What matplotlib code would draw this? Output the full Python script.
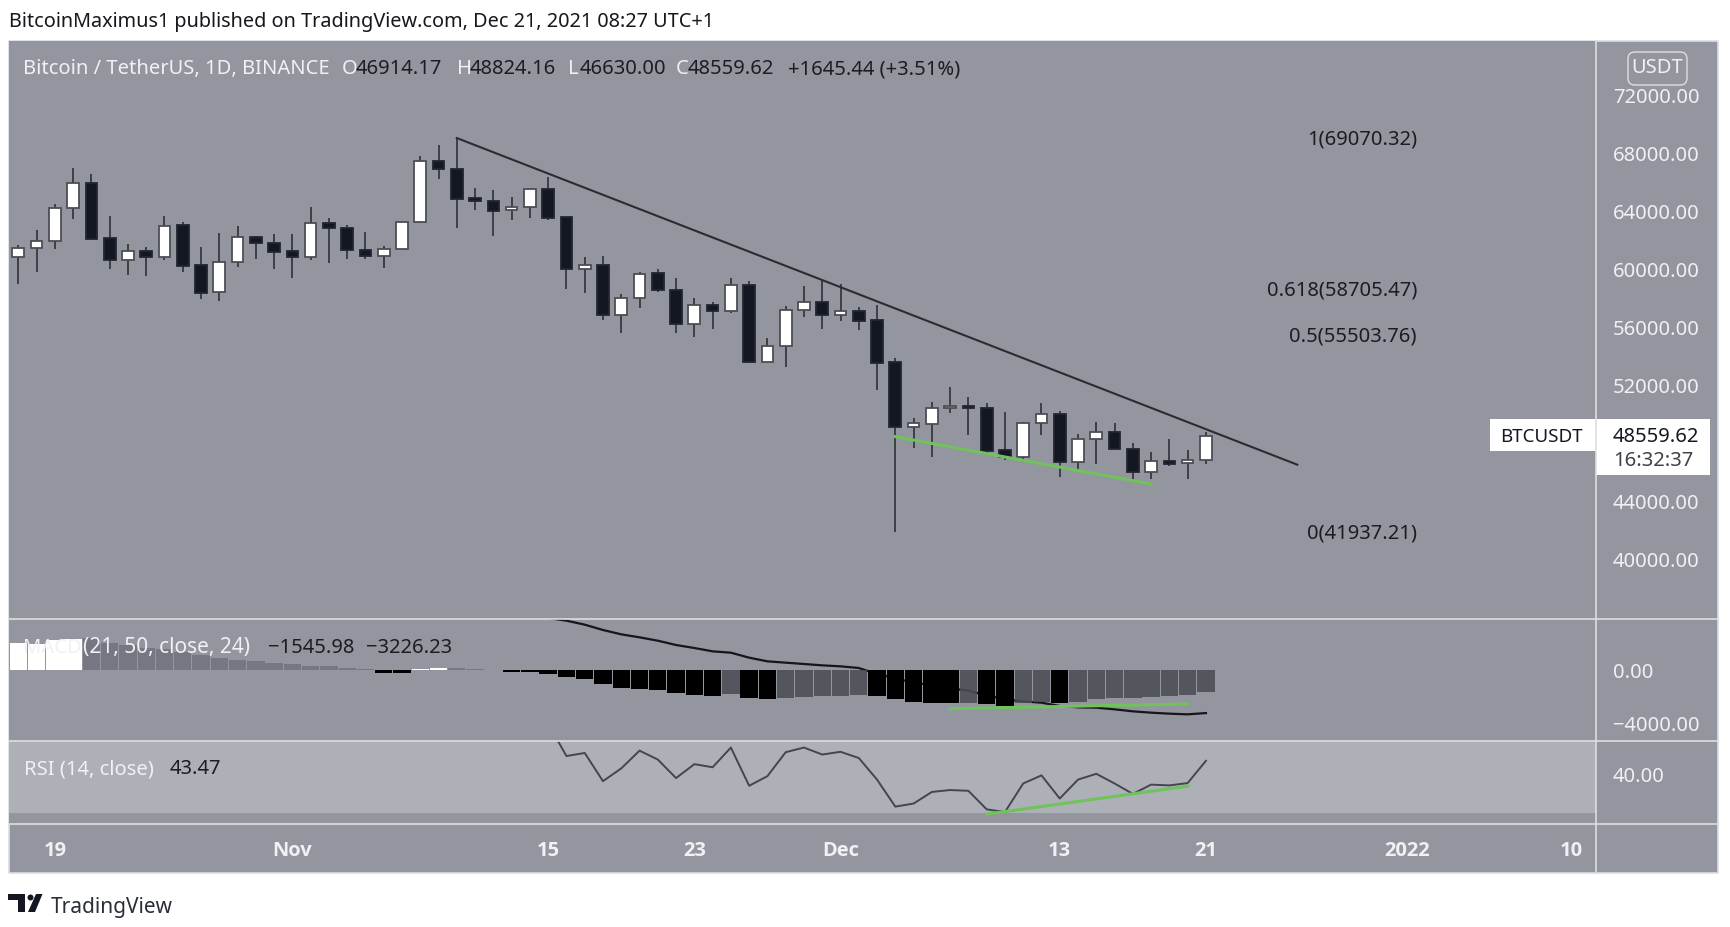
import matplotlib
matplotlib.use("Agg")
import matplotlib.pyplot as plt
from matplotlib.patches import Rectangle, FancyBboxPatch, Ellipse, Polygon
from matplotlib.lines import Line2D

W, H = 1731, 927
BG = "#94969f"
FONT = "Noto Sans"
FS = 14.5

highs = [61723,62758,64551,67057,66643,63746,61792,61562,63746,63333,61562,62528,63011,62367,62459,62459,64321,63586,63080,62620,61654,63333,67862,68597,
         69100,65678,65517,65011,65586,66391,63655,60919,60988,58344,59862,60092,59448,58091,57770,59448,59218,55332,57494,58896,59264,59034,57448,57586,
         53907,49769,50896,51953,51218,50804,50183,49516,50804,50252,48712,49516,49425,48045,47424,48321,47562,48824.16]
lows = [59011,59884,61424,63540,62068,60045,59655,59562,60689,59884,58022,57861,60229,60781,60045,59470,60689,60459,60781,60781,60114,61424,63264,66275,
        62873,64161,62322,63448,63609,63448,58689,58436,56574,55677,57379,58505,55677,55355,55930,57057,53586,53677,53332,56735,55930,56505,55838,51723,
        41937,47746,47126,50114,48643,47355,46896,46781,48643,45746,46298,46643,47631,45470,45585,46459,45585,46630]
opens = [60873,61517,62022,64275,65999,62206,60712,61310,60873,63080,60344,58459,60551,62275,61884,61310,60873,63264,62919,61402,60965,61447,63287,67540,
         66965,64942,64781,64115,64345,65586,63655,60068,60344,56919,58046,59770,58643,56275,57586,57149,58965,53677,54735,57241,57816,56919,57172,56551,
         53632,49149,49401,50459,50643,50482,47562,47126,49425,50068,46735,48344,48850,47654,46091,46850,46666,46914.17]
closes = [61540,62022,64298,65977,62137,60689,61287,60873,63057,60298,58436,60574,62252,61838,61264,60873,63218,62896,61356,60942,61470,63310,67517,66942,
          64896,64735,64092,64367,65586,63609,60068,60344,56919,58068,59747,58597,56275,57586,57149,58942,53677,54735,57264,57816,56919,57195,56505,53586,
          49149,49425,50459,50643,50459,47516,47126,49425,50068,46735,48367,48850,47631,46068,46850,46643,46919,48559.62]

# macd histogram, one bar per day, plus its colour group
hist = [2038,1988,2290,2365,2415,2088,1912,1711,1585,1409,1157,906,780,730,528,478,352,352,176,101,-176,-176,101,201,176,75,25,-101,-101,-252,-503,-679,-1057,
        -1308,-1409,-1510,-1736,-1837,-1937,-1812,-2113,-2189,-2113,-2013,-1937,-1937,-1837,-1937,-2189,-2365,-2466,-2466,-2466,-2541,-2667,-2441,-2415,-2466,
        -2365,-2189,-2088,-2063,-2013,-1937,-1837,-1661]
hist_kind = list("wwww" + "l" * 16 + "kk" + "ww" + "lll" + "k" * 12 + "d" + "kk" + "ddddd" + "kkkkk" + "d" + "kk" + "dd" + "k" + "d" * 8)
macd_days = list(range(29, 66))
macd_line = [3950,3749,3447,3044,2717,2491,2239,1912,1686,1434,1333,956,679,579,478,377,302,176,-277,-604,-931,-1107,-1359,-1535,-1887,-2189,-2340,-2441,-2692,
             -2793,-2818,-2944,-3095,-3195,-3271,-3321,-3226]

rsi_days = list(range(29, 66))
rsi = [53.1,44.7,45.5,38.2,41.5,46.1,43.8,39.0,42.6,41.8,46.9,37.0,39.5,45.7,46.9,45.1,45.8,44.2,38.6,31.6,32.4,35.4,35.9,35.7,30.9,30.2,37.6,39.7,33.7,38.6,
       40.1,37.6,34.9,37.3,37.1,37.7,43.47]

fib_levels = [69070.32, 58705.47, 55503.76, 41937.21]
fib_labels = ["1(69070.32)", "0.618(58705.47)", "0.5(55503.76)", "0(41937.21)"]

price_ticks = [72000, 68000, 64000, 60000, 56000, 52000, 44000, 40000]
macd_ticks = [0, -4000]
rsi_ticks = [40]
time_ticks = [2, 15, 29, 37, 45, 57, 65, 76, 85]
time_labels = ["19", "Nov", "15", "23", "Dec", "13", "21", "2022", "10"]

trend_x, trend_y = [24, 70], [69100, 46574]
green_price_x, green_price_y = [48, 62], [48505, 45240]
green_macd_x, green_macd_y = [51, 64], [-2893, -2541]
green_rsi_x, green_rsi_y = [53, 64], [29.65, 36.9]

XLIM = (-0.51, 86.35)
LEFT, RIGHT = 9, 1596
GREEN = "#6fc35a"
DARK = "#1b1d23"
LIGHT = "#f0f1f4"
SEP = "#dcdee3"


def make_ax(top, bottom):
    ax = fig.add_axes([LEFT / W, 1 - bottom / H, (RIGHT - LEFT) / W, (bottom - top) / H])
    ax.set_facecolor(BG)
    ax.set_xlim(*XLIM)
    for s in ax.spines.values():
        s.set_visible(False)
    ax.yaxis.tick_right()
    ax.tick_params(axis="y", length=0, pad=12, labelcolor=LIGHT, labelsize=FS)
    ax.tick_params(axis="x", length=0, labelbottom=False)
    return ax


def label(x, y, s, color=LIGHT, size=FS, ha="left", **kw):
    fig.text(x / W, 1 - y / H, s, color=color, fontsize=size, ha=ha, va="center", family=FONT, **kw)


def px_poly(points, color):
    fig.add_artist(Polygon([(x / W, 1 - y / H) for x, y in points], closed=True, transform=fig.transFigure,
                           facecolor=color, edgecolor="none"))


fig = plt.figure(figsize=(W / 100, H / 100), dpi=100, facecolor="white")
fig.add_artist(Rectangle((LEFT / W, 1 - 873 / H), (1718 - LEFT) / W, (873 - 41) / H, transform=fig.transFigure,
                         facecolor=BG, edgecolor=SEP, lw=1.2, zorder=-1))

ax = make_ax(41, 619)
ax.set_ylim(35931, 75793)
ax.set_yticks(price_ticks)
ax.set_yticklabels([f"{v:.2f}" for v in price_ticks], family=FONT)
days = list(range(len(opens)))
ax.vlines(days, lows, highs, color="#3d3f46", lw=1.4, zorder=2)
for d, o, c in zip(days, opens, closes):
    up = c >= o
    ax.bar(d, abs(c - o), bottom=min(o, c), width=0.64, zorder=3,
           facecolor="white" if up else "#131722", edgecolor="#4c4e55" if up else "#23262e", lw=1.3)
ax.plot(trend_x, trend_y, color="#2a2c32", lw=1.5, zorder=4)
ax.plot(green_price_x, green_price_y, color=GREEN, lw=2.2, zorder=5)
for lv, txt in zip(fib_levels, fib_labels):
    ax.annotate(txt, (76.55, lv), xytext=(0, -1), textcoords="offset points",
                color=DARK, fontsize=FS, ha="right", va="center", family=FONT)

ax2 = make_ax(619, 741)
ax2.set_ylim(-5334, 3875)
ax2.set_yticks(macd_ticks)
ax2.set_yticklabels(["0.00", "\u22124000.00"], family=FONT)
ax2.plot(macd_days, macd_line, color="#14161b", lw=1.6, zorder=2)
# the dark grey bars let the macd line show through
kind_color = {"w": "#ffffff", "k": "#000000", "l": "#757882", "d": (0.29, 0.30, 0.33, 0.88)}
ax2.bar(days, hist, width=0.95, color=[kind_color[k] for k in hist_kind], zorder=3)
ax2.plot(green_macd_x, green_macd_y, color=GREEN, lw=2.2, zorder=4)

ax3 = make_ax(741, 824)
ax3.set_ylim(27.1, 48.6)
ax3.set_yticks(rsi_ticks)
ax3.set_yticklabels(["40.00"], family=FONT)
ax3.axhspan(30, 70, color="#adb0b7", zorder=0, lw=0)
ax3.plot(rsi_days, rsi, color="#44464c", lw=1.4, zorder=3)
ax3.plot(green_rsi_x, green_rsi_y, color=GREEN, lw=2.2, zorder=4)
ax3.set_xticks(time_ticks)
ax3.tick_params(axis="x", labelbottom=True, pad=12.5)
ax3.set_xticklabels(time_labels, family="Open Sans", fontweight="bold", color=LIGHT, fontsize=FS)

# pane separators and the price column edge
for y in (619, 741, 824):
    fig.add_artist(Line2D([LEFT / W, 1718 / W], [1 - y / H] * 2, color=SEP, lw=1.2, transform=fig.transFigure))
fig.add_artist(Line2D([RIGHT / W] * 2, [1 - 41 / H, 1 - 873 / H], color=SEP, lw=1.2, transform=fig.transFigure))

# text around the panes
label(9, 21.5, "BitcoinMaximus1 published on TradingView.com, Dec 21, 2021 08:27 UTC+1", color="#16181d", size=14.3)
label(23, 69, "Bitcoin / TetherUS, 1D, BINANCE")
for x, s in [(342, "O"), (457, "H"), (568, "L"), (676, "C")]:
    label(x, 69, s)
for x, s in [(356, "46914.17"), (470, "48824.16"), (580, "46630.00"), (688, "48559.62"), (788, "+1645.44 (+3.51%)")]:
    label(x, 69, s, color=DARK)
label(23, 648, "MACD")
label(83, 648, "(21, 50, close, 24)", size=15)
label(268, 648, "\u22121545.98", color=DARK)
label(366, 648, "\u22123226.23", color=DARK)
label(24, 769, "RSI (14, close)")
label(170, 769, "43.47", color=DARK)

# currency button
fig.add_artist(FancyBboxPatch((1628 / W, 1 - 85 / H), 59 / W, 33 / H, boxstyle="round,pad=0,rounding_size=0.004",
                              mutation_aspect=W / H, transform=fig.transFigure, facecolor=BG, edgecolor=SEP, lw=1))
label(1657.5, 68, "USDT", ha="center")

# last price tag
for x0, x1, y0, y1 in [(1490, 1710, 419, 451), (1596, 1710, 419, 475)]:
    fig.add_artist(Rectangle((x0 / W, 1 - y1 / H), (x1 - x0) / W, (y1 - y0) / H, transform=fig.transFigure,
                             facecolor="white", edgecolor="none"))
label(1500, 437, "BTCUSDT", color="#131722", size=13.5)
label(1613, 437, "48559.62", color="#131722")
label(1613, 461, "16:32:37", color="#3f4147")

# footer logo and wordmark
LOGO = "#131722"
px_poly([(8, 894), (25, 894), (25, 912), (18, 912), (18, 900), (8, 900)], LOGO)
fig.add_artist(Ellipse((30.5 / W, 1 - 897.5 / H), 6 / W, 6 / H, transform=fig.transFigure, facecolor=LOGO, edgecolor="none"))
px_poly([(36, 894), (42.5, 894), (35, 912), (28, 912)], LOGO)
label(51, 908, "TradingView", color="#2a2e39", size=15)

fig.savefig("out.png", dpi=100)
